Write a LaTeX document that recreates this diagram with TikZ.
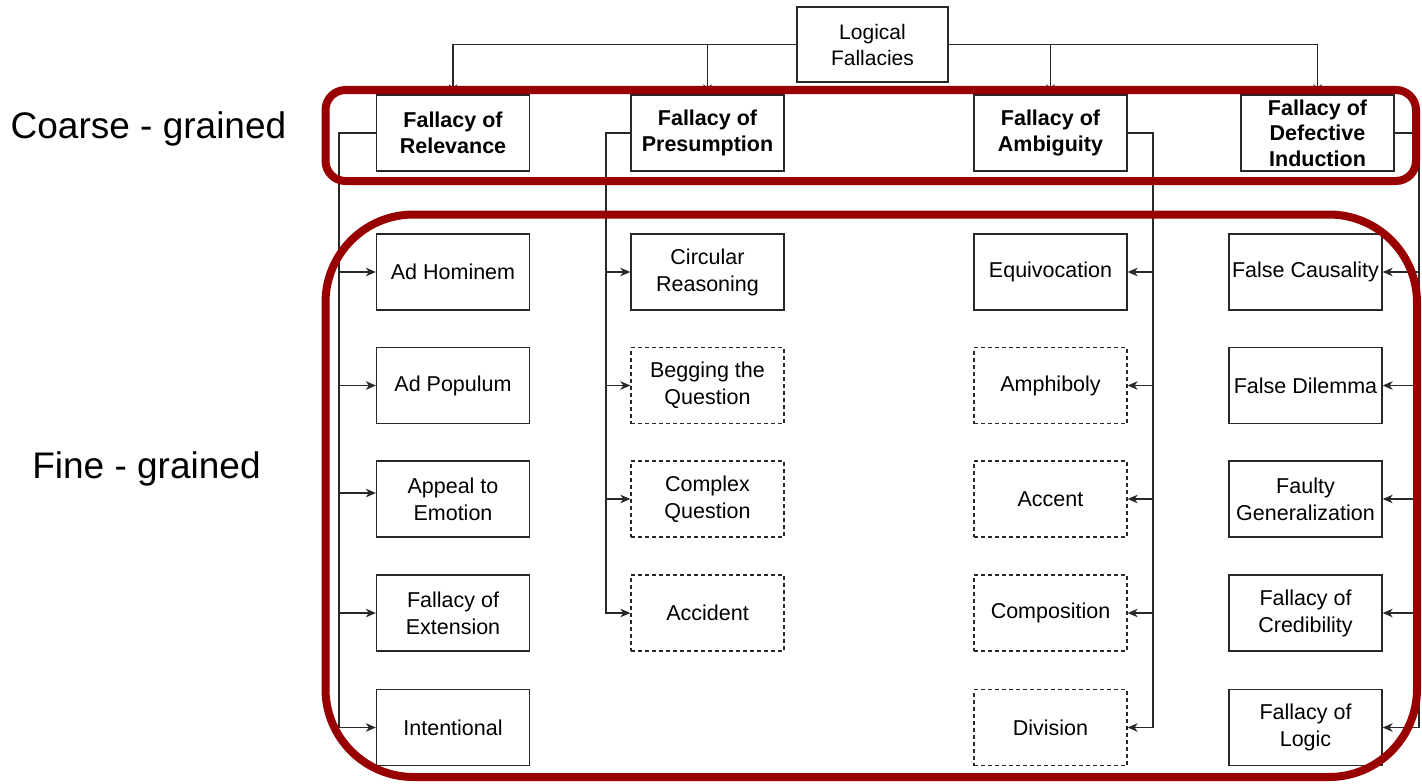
\documentclass[tikz,border=0pt]{standalone}
\usepackage{fontspec}
\setmainfont{Liberation Sans}
\usetikzlibrary{arrows.meta}
\definecolor{framered}{RGB}{152,0,0}
\definecolor{inkgray}{RGB}{40,40,40}
\begin{document}
\begin{tikzpicture}[x=1pt,y=-1pt,
  box/.style={draw=inkgray, line width=1.3pt, minimum width=153pt, minimum height=76pt,
              inner sep=0pt, align=center, text=black, font=\fontsize{21.5}{27}\selectfont},
  dbox/.style={box, dash pattern=on 4pt off 3pt},
  head/.style={box, font=\fontsize{21.5}{25.5}\selectfont\bfseries},
  link/.style={draw=inkgray, line width=1.3pt},
  arr/.style={link, -{Stealth[length=10pt,width=8.5pt,inset=3pt]}},
  group/.style={draw=framered, line width=8pt},
  side/.style={font=\fontsize{37}{44}\selectfont, text=black}
]
\useasboundingbox (0,0) rectangle (1422,784);

% root
\node[box, minimum width=151pt, minimum height=75pt, font=\fontsize{21}{26}\selectfont]
  (root) at (872.5,44.5) {Logical\\Fallacies};

% coarse-grained categories
\node[head] (rel) at (453,133)    {Fallacy of\\Relevance};
\node[head] (pre) at (707.5,133)  {Fallacy of\\Presumption};
\node[head] (amb) at (1050.5,133) {Fallacy of\\Ambiguity};
\node[head] (ind) at (1317.5,133) {Fallacy of\\Defective\\Induction};

% fine-grained: relevance
\node[box] (hom) at (453,272)   {Ad Hominem};
\node[box] (pop) at (453,385.5) {Ad Populum};
\node[box] (emo) at (453,499)   {Appeal to\\Emotion};
\node[box] (ext) at (453,613)   {Fallacy of\\Extension};
\node[box] (int) at (453,727.5) {Intentional};

% fine-grained: presumption
\node[box]  (cir) at (707.5,272)   {Circular\\Reasoning};
\node[dbox] (beg) at (707.5,385.5) {Begging the\\Question};
\node[dbox] (cpx) at (707.5,499)   {Complex\\Question};
\node[dbox] (acc) at (707.5,613)   {Accident};

% fine-grained: ambiguity
\node[box]  (equ) at (1050.5,272)   {Equivocation};
\node[dbox] (amp) at (1050.5,385.5) {Amphiboly};
\node[dbox] (act) at (1050.5,499)   {Accent};
\node[dbox] (com) at (1050.5,613)   {Composition};
\node[dbox] (div) at (1050.5,727.5) {Division};

% fine-grained: defective induction
\node[box] (cau) at (1305.5,272)   {False Causality};
\node[box] (dil) at (1305.5,385.5) {False Dilemma};
\node[box] (gen) at (1305.5,499)   {Faulty\\Generalization};
\node[box] (cre) at (1305.5,613)   {Fallacy of\\Credibility};
\node[box] (log) at (1305.5,727.5) {Fallacy of\\Logic};

% root to categories
\draw[arr] (root.west) -| (rel.north);
\draw[arr] (root.west) -| (pre.north);
\draw[arr] (root.east) -| (amb.north);
\draw[arr] (root.east) -| (ind.north);

% trunk corners
\coordinate (j1) at (339,133);
\coordinate (j2) at (606,133);
\coordinate (j3) at (1153,133);
\coordinate (j4) at (1419,133);

% relevance branch
\foreach \c in {hom,pop,ext,int}
  \draw[arr] (rel.west) -- (j1) |- (\c.west);
\draw[arr] (rel.west) -- (j1) |- ([yshift=6pt]emo.west);

% presumption branch
\foreach \c in {cir,beg,cpx,acc}
  \draw[arr] (pre.west) -- (j2) |- (\c.west);

% ambiguity branch
\foreach \c in {equ,amp,act,com,div}
  \draw[arr] (amb.east) -- (j3) |- (\c.east);

% defective induction branch
\foreach \c in {cau,dil,gen,cre,log}
  \draw[arr] (ind.east) -- (j4) |- (\c.east);

% grouping frames
\draw[group, rounded corners=20pt] (325.5,90) rectangle (1416,181);
\draw[group, rounded corners=88pt] (325.5,214.5) rectangle (1417,777);

% level labels
\node[side] (coarse) at (148.5,129) {Coarse - grained};
\node[side] (fine)   at (146.5,469) {Fine - grained};
\end{tikzpicture}
\end{document}
